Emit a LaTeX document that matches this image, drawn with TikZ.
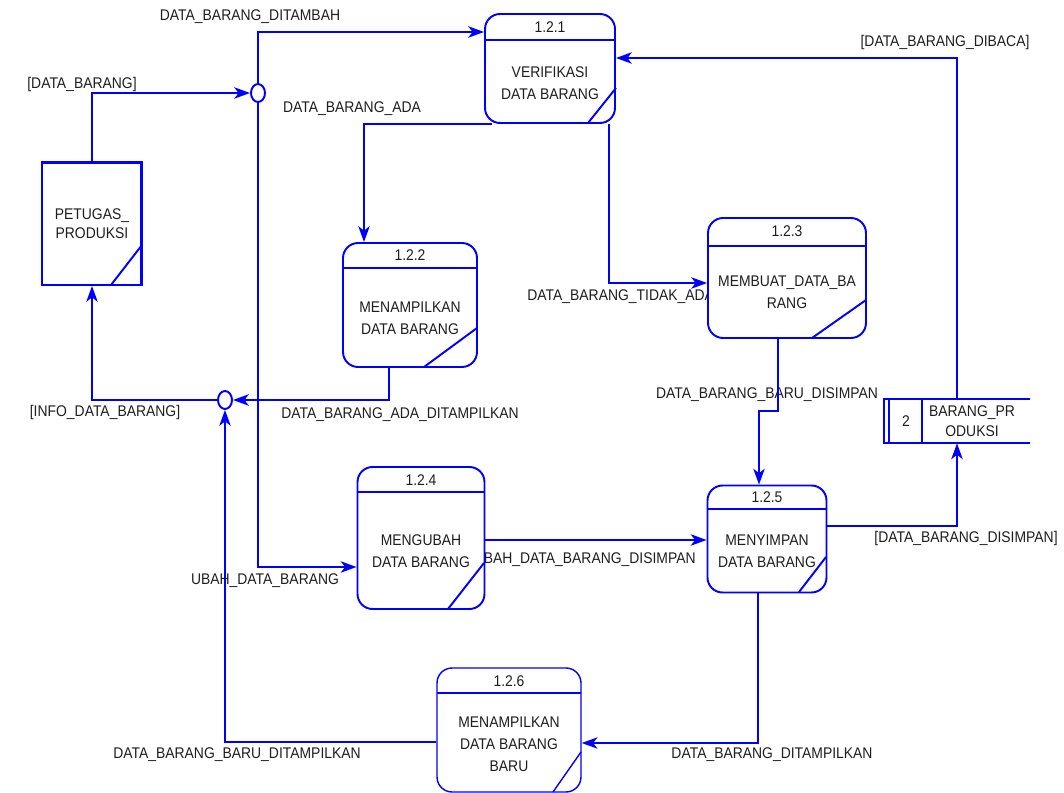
\documentclass[tikz,border=0pt]{standalone}
\usepackage{fontspec}
\setmainfont{Liberation Sans}[FakeStretch=0.9]
\usetikzlibrary{shapes.geometric, arrows.meta}

\definecolor{dfdbiru}{RGB}{0,0,255}
\definecolor{dfdteks}{RGB}{30,30,30}

\tikzset{
  garis/.style={draw=dfdbiru, line width=1.1pt},
  alir/.style={garis, -{Stealth[length=9pt,width=6.5pt,inset=2.5pt]}},
  proses/.style={garis, rounded corners=0.3cm, fill=white, inner sep=0pt},
  entitas/.style={garis, fill=white, inner sep=0pt, align=center, text=dfdteks,
    font=\fontsize{8.8}{11}\selectfont, minimum width=2cm, minimum height=2.46cm},
  simpang/.style={garis, ellipse, fill=white, inner sep=0pt, minimum width=0.28cm, minimum height=0.36cm},
  teks/.style={text=dfdteks, inner sep=0pt, align=center, font=\fontsize{8.8}{12.5}\selectfont},
}

\begin{document}
\begin{tikzpicture}[x=0.02cm, y=-0.02cm]
	\useasboundingbox (0,0) rectangle (1064,793);

	% label aliran
	\node[teks] (l1) at (82,85) {[DATA\_BARANG]};
	\node[teks] (l2) at (250,17) {DATA\_BARANG\_DITAMBAH};
	\node[teks] (l3) at (352,109) {DATA\_BARANG\_ADA};
	\node[teks] (l4) at (945,43) {[DATA\_BARANG\_DIBACA]};
	\node[teks, anchor=west] (l5) at (527,297) {DATA\_BARANG\_TIDAK\_ADA};
	\node[teks] (l6) at (400,415) {DATA\_BARANG\_ADA\_DITAMPILKAN};
	\node[teks] (l7) at (105,413) {[INFO\_DATA\_BARANG]};
	\node[teks] (l8) at (767,395) {DATA\_BARANG\_BARU\_DISIMPAN};
	\node[teks] (l9) at (265,581) {UBAH\_DATA\_BARANG};
	\node[teks, anchor=east] (l10) at (696,560) {UBAH\_DATA\_BARANG\_DISIMPAN};
	\node[teks] (l11) at (966,539) {[DATA\_BARANG\_DISIMPAN]};
	\node[teks] (l12) at (237,755) {DATA\_BARANG\_BARU\_DITAMPILKAN};
	\node[teks] (l13) at (772,755) {DATA\_BARANG\_DITAMPILKAN};

	% entitas luar
	\node[entitas] (pet) at (92,223.5) {PETUGAS\_\\PRODUKSI};
	\draw[garis] ([yshift=-1.3pt]pet.north west) -- ([shift={(-1.3pt,-1.3pt)}]pet.north east) -- ([xshift=-1.3pt]pet.south east);
	\draw[garis] (111,285) -- (142,245);

	% titik simpang
	\node[simpang] (j1) at (258,93) {};
	\node[simpang] (j2) at (225,400) {};

	% proses 1.2.1
	\node[proses, minimum width=2.6cm, minimum height=2.18cm] (p121) at (550,68.5) {};
	\draw[garis] (485,40) -- (615,40);
	\draw[garis] (588,123) -- (616,88);
	\node[teks] (p121n) at (550,27) {1.2.1};
	\node[teks] (p121t) at (550,83) {VERIFIKASI\\DATA BARANG};

	% proses 1.2.2
	\node[proses, minimum width=2.68cm, minimum height=2.48cm] (p122) at (410,305) {};
	\draw[garis] (343,268) -- (477,268);
	\draw[garis] (424,367) -- (477,328);
	\node[teks] (p122n) at (410,255.5) {1.2.2};
	\node[teks] (p122t) at (410,318) {MENAMPILKAN\\DATA BARANG};

	% proses 1.2.3
	\node[proses, minimum width=3.16cm, minimum height=2.4cm] (p123) at (787,278) {};
	\draw[garis] (708,246) -- (866,246);
	\draw[garis] (812,338) -- (866,300);
	\node[teks] (p123n) at (787,231.5) {1.2.3};
	\node[teks] (p123t) at (787,292) {MEMBUAT\_DATA\_BA\\RANG};

	% proses 1.2.4
	\node[proses, minimum width=2.54cm, minimum height=2.84cm] (p124) at (421,538) {};
	\draw[garis] (358,492) -- (484,492);
	\draw[garis] (448,609) -- (484,563);
	\node[teks] (p124n) at (421,480) {1.2.4};
	\node[teks] (p124t) at (421,551) {MENGUBAH\\DATA BARANG};

	% proses 1.2.5
	\node[proses, minimum width=2.38cm, minimum height=2.14cm] (p125) at (767,539) {};
	\draw[garis] (708,509) -- (826,509);
	\draw[garis] (799,592) -- (826,557);
	\node[teks] (p125n) at (767,497) {1.2.5};
	\node[teks] (p125t) at (767,551.5) {MENYIMPAN\\DATA BARANG};

	% proses 1.2.6
	\node[proses, line width=0.8pt, minimum width=2.88cm, minimum height=2.48cm] (p126) at (509,730) {};
	\draw[garis, line width=0.8pt] (437,693) -- (581,693);
	\draw[garis, line width=0.8pt] (553,792) -- (581,752);
	\node[teks] (p126n) at (509,681) {1.2.6};
	\node[teks] (p126t) at (509,744) {MENAMPILKAN\\DATA BARANG\\BARU};

	% data store
	\node[teks, minimum width=2.9cm, minimum height=0.88cm] (ds2) at (957,421) {};
	\draw[garis] (ds2.north east) -- (ds2.north west) -- (ds2.south west) -- (ds2.south east);
	\draw[garis] (889,399) -- (889,443);
	\draw[garis] (922,399) -- (922,443);
	\node[teks] (ds2n) at (906,421) {2};
	\node[teks, font=\fontsize{8.8}{11.3}\selectfont] (ds2t) at (972,421) {BARANG\_PR\\ODUKSI};

	% aliran data
	\draw[alir] (pet.north) |- (j1.west);
	\draw[alir] (j1.north) |- (p121.west |- 0,32);
	\draw[alir] (j1.south) |- (p124.west |- 0,567);
	\draw[alir] (p121.south -| 492,0) -| (p122.north -| 364,0);
	\draw[alir] (p121.south -| 609,0) |- (p123.west |- 0,283);
	\draw[alir] (p122.south -| 389,0) |- (j2.east);
	\draw[alir] (j2.west) -| (pet.south);
	\draw[alir, line width=0.8pt] (p126.west |- 0,742) -| (j2.south);
	\draw[alir, line width=0.8pt] (p125.south -| 758,0) |- (p126.east |- 0,743);
	\draw[alir] (p123.south -| 778,0) -- (778,411) -- (759,411) -- (p125.north -| 759,0);
	\draw[alir] (p124.east |- 0,540) -- (p125.west |- 0,540);
	\draw[alir] (p125.east |- 0,526) -| (ds2.south);
	\draw[alir] (ds2.north) |- (p121.east |- 0,58);
\end{tikzpicture}
\end{document}
